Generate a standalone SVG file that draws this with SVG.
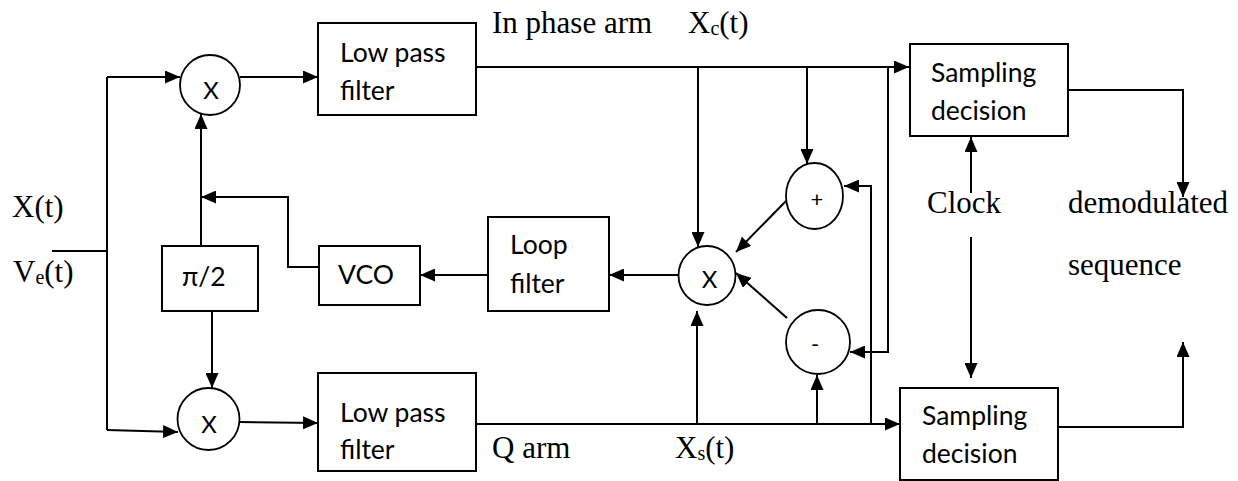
<svg xmlns="http://www.w3.org/2000/svg" width="1238" height="481" viewBox="0 0 1238 481">
<defs>
<marker id="ah" markerUnits="userSpaceOnUse" markerWidth="15" markerHeight="13" refX="15" refY="6.5" orient="auto">
<path d="M0,0 L15,6.5 L0,13 z" fill="#000"/>
</marker>
<style>
.box{fill:#fff;stroke:#000;stroke-width:2}
.circ{fill:#fff;stroke:#000;stroke-width:1.8}
.ln{fill:none;stroke:#000;stroke-width:2}
.ar{fill:none;stroke:#000;stroke-width:2;marker-end:url(#ah)}
.sans{font-family:Lato,"Liberation Sans",sans-serif;font-size:26.5px;fill:#000}
.big{font-family:"Liberation Serif",serif;font-size:31px;fill:#000}
.op{font-family:Lato,"Liberation Sans",sans-serif;font-size:24px;fill:#000;text-anchor:middle}
.sm{font-family:Lato,"Liberation Sans",sans-serif;font-size:22px;fill:#000;text-anchor:middle}
</style>
</defs>
<rect width="1238" height="481" fill="#fff"/>
<g id="connectors">
<path class="ln" d="M52,251 L107,251"/>
<path class="ln" d="M107,77 L107,430"/>
<path class="ar" d="M107,77 L180,77"/>
<path class="ar" d="M107,430 L178,432"/>
<path class="ar" d="M240,77 L318,77"/>
<path class="ar" d="M240,422 L318,423"/>
<path class="ar" d="M201,246 L201,114"/>
<path class="ar" d="M319,267 L288,267 L288,197 L201,197"/>
<path class="ar" d="M212,311 L212,388"/>
<path class="ar" d="M488,275 L420,275"/>
<path class="ar" d="M678,275 L609,275"/>
<path class="ar" d="M476,67 L909,67"/>
<path class="ar" d="M698,67 L698,247"/>
<path class="ar" d="M807,67 L807,164"/>
<path class="ar" d="M888,67 L888,352 L850,352"/>
<path class="ar" d="M476,424 L900,424"/>
<path class="ar" d="M697,424 L697,311"/>
<path class="ar" d="M817,424 L817,375"/>
<path class="ar" d="M871,424 L871,186 L844,186"/>
<path class="ar" d="M786,201 L736,252"/>
<path class="ar" d="M787,318 L736,273"/>
<path class="ar" d="M1068,90 L1183,90 L1183,197"/>
<path class="ar" d="M1058,427 L1183,427 L1183,342"/>
<path class="ar" d="M971,193 L971,137"/>
<path class="ar" d="M971,237 L971,378"/>
</g>
<g id="mulTop"><circle class="circ" cx="210" cy="85" r="30"/><text class="op" x="211" y="99">X</text></g>
<g id="mulBot"><circle class="circ" cx="208.5" cy="419" r="31"/><text class="op" x="209" y="433">X</text></g>
<g id="lpfTop"><rect class="box" x="318" y="23" width="158" height="92"/><text class="sans" x="340" y="62">Low pass</text><text class="sans" x="340" y="100">filter</text></g>
<g id="lpfBot"><rect class="box" x="318" y="373" width="158" height="98"/><text class="sans" x="340" y="422">Low pass</text><text class="sans" x="340" y="459">filter</text></g>
<g id="phase"><rect class="box" x="162" y="246" width="96" height="65"/><text class="sans" x="182" y="286">π/2</text></g>
<g id="vco"><rect class="box" x="319" y="246" width="101" height="59"/><text class="sans" x="338" y="284">VCO</text></g>
<g id="loopFilter"><rect class="box" x="488" y="217" width="121" height="94"/><text class="sans" x="510" y="254">Loop</text><text class="sans" x="510" y="293">filter</text></g>
<g id="mulMid"><ellipse class="circ" cx="707" cy="275.5" rx="28.5" ry="29.5"/><text class="op" x="709.5" y="288">X</text></g>
<g id="sum"><ellipse class="circ" cx="814.5" cy="196" rx="28.5" ry="33"/><text class="sm" x="817" y="207">+</text></g>
<g id="diff"><ellipse class="circ" cx="818" cy="342" rx="32" ry="32"/><text class="sm" x="815" y="352">-</text></g>
<g id="sampTop"><rect class="box" x="910" y="44" width="158" height="92"/><text class="sans" x="931" y="82">Sampling</text><text class="sans" x="931" y="120">decision</text></g>
<g id="sampBot"><rect class="box" x="900" y="388" width="158" height="92"/><text class="sans" x="922" y="425">Sampling</text><text class="sans" x="922" y="463">decision</text></g>
<g id="labels">
<text class="big" x="12" y="217">X(t)</text>
<text class="big" x="13" y="282">V<tspan font-size="20" dy="2">e</tspan><tspan dy="-2">(t)</tspan></text>
<text class="big" x="492" y="33">In phase arm</text>
<text class="big" x="688" y="33">X<tspan font-size="20" dy="2">c</tspan><tspan dy="-2">(t)</tspan></text>
<text class="big" x="492" y="458">Q arm</text>
<text class="big" x="675" y="458">X<tspan font-size="20" dy="2">s</tspan><tspan dy="-2">(t)</tspan></text>
<text class="big" x="927" y="213">Clock</text>
<text class="big" x="1068" y="213">demodulated</text>
<text class="big" x="1068" y="275">sequence</text>
</g>
</svg>
